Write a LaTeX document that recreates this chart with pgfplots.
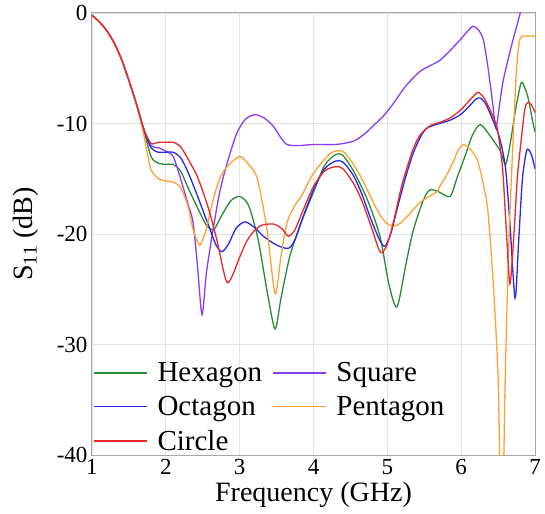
\documentclass[border=0pt]{standalone}
\usepackage{pgfplots}
\pgfplotsset{compat=1.18}
\usepackage{fontspec}
\setmainfont{Liberation Serif}

\definecolor{hexgreen}{RGB}{40,140,50}
\definecolor{octblue}{RGB}{40,40,235}
\definecolor{circred}{RGB}{235,40,40}
\definecolor{sqpurple}{RGB}{140,60,240}
\definecolor{pentorange}{RGB}{255,160,50}

\begin{document}
\begin{tikzpicture}
  \begin{axis}[
    scale only axis,
    width=443pt, height=442pt,
    xmin=1, xmax=7, ymin=-40, ymax=0,
    xtick={1,2,3,4,5,6,7},
    xticklabels={1,2,3,4,5,6,7},
    ytick={-40,-30,-20,-10,0},
    yticklabels={-40,-30,-20,-10,0},
    major tick length=0pt,
    tick label style={font=\rmfamily\fontsize{23}{26}\selectfont},
    xticklabel style={yshift=-1pt},
    yticklabel style={xshift=-1pt},
    grid=major,
    grid style={gray!22, line width=0.8pt},
    axis line style={gray!70, line width=1pt},
    xlabel={Frequency (GHz)},
    ylabel={S\textsubscript{11} (dB)},
    every axis x label/.style={at={(axis description cs:0.5,-0.09)},anchor=center,
      font=\rmfamily\fontsize{28}{32}\selectfont},
    every axis y label/.style={at={(axis description cs:-0.15,0.5)},rotate=90,anchor=center,
      font=\rmfamily\fontsize{28}{32}\selectfont},
    legend columns=2,
    legend cell align=left,
    legend image code/.code={\draw[#1, line width=1.3pt] (0pt,0pt) -- (53pt,0pt);},
    legend style={at={(axis description cs:0.0,0.0)}, anchor=south west,
      draw=none, fill=none, font=\rmfamily\fontsize{29}{32}\selectfont,
      inner sep=1pt, row sep=9pt,
      /tikz/every odd column/.append style={column sep=8pt},
      /tikz/every even column/.append style={column sep=8pt}},
    every axis plot/.append style={line width=1.3pt, smooth, tension=0.45},
  ]
  % Hexagon
  \addplot[hexgreen] coordinates {
    (1.0,-0.2)(1.1,-0.8)(1.2,-1.6)(1.3,-2.7)(1.4,-4.2)(1.5,-6.1)(1.6,-8.2)(1.7,-10.5)
    (1.8,-13.0)(1.9,-13.6)(2.0,-13.7)(2.1,-13.7)(2.2,-14.3)(2.3,-15.8)(2.42,-17.5)
    (2.55,-19.2)(2.65,-19.6)(2.75,-18.4)(2.88,-17.0)(3.0,-16.6)(3.12,-17.4)(3.25,-20.5)
    (3.38,-25.5)(3.48,-28.6)(3.56,-25.8)(3.68,-22)(3.82,-19.2)(4.0,-16.2)(4.15,-13.8)
    (4.3,-12.8)(4.4,-12.9)(4.55,-14.4)(4.73,-16.9)(4.9,-20.2)(5.02,-24.5)(5.13,-26.6)
    (5.25,-22.8)(5.35,-19.7)(5.49,-16.9)(5.58,-16.0)(5.7,-16.2)(5.85,-16.6)(5.95,-14.8)
    (6.05,-13.0)(6.15,-11.1)(6.26,-10.1)(6.4,-11.2)(6.53,-12.5)(6.6,-13.7)(6.66,-12.0)
    (6.73,-9.0)(6.8,-6.6)(6.83,-6.3)(6.9,-7.5)(6.96,-9.5)(7.0,-10.8)};
  \addlegendentry{Hexagon}
  % Square
  \addplot[sqpurple] coordinates {
    (1.0,-0.2)(1.1,-0.8)(1.2,-1.6)(1.3,-2.7)(1.4,-4.2)(1.5,-6.1)(1.6,-8.2)(1.7,-10.5)
    (1.8,-12.0)(1.9,-12.2)(2.0,-12.5)(2.1,-13.0)(2.2,-15.0)(2.3,-17.3)(2.37,-19.0)
    (2.43,-23.0)(2.49,-27.3)(2.55,-23.5)(2.64,-19.6)(2.73,-16.2)(2.83,-13.6)(2.96,-10.9)
    (3.08,-9.6)(3.21,-9.2)(3.33,-9.5)(3.45,-10.2)(3.55,-11.2)(3.64,-11.9)(3.8,-12.0)
    (4.0,-11.9)(4.3,-11.9)(4.54,-11.6)(4.7,-10.9)(4.81,-10.2)(4.95,-9.3)(5.08,-8.2)
    (5.25,-6.6)(5.44,-5.3)(5.6,-4.7)(5.71,-4.3)(5.85,-3.4)(5.99,-2.4)(6.08,-1.7)
    (6.16,-1.2)(6.23,-1.5)(6.3,-2.4)(6.36,-4.8)(6.42,-7.8)(6.47,-10.4)(6.52,-8.3)
    (6.57,-6.1)(6.68,-3.0)(6.8,0)(6.85,1.5)};
  \addlegendentry{Square}
  % Octagon
  \addplot[octblue] coordinates {
    (1.0,-0.2)(1.1,-0.8)(1.2,-1.6)(1.3,-2.7)(1.4,-4.2)(1.5,-6.1)(1.6,-8.2)(1.7,-10.5)
    (1.8,-12.2)(1.9,-12.6)(2.0,-12.6)(2.1,-12.6)(2.2,-13.1)(2.3,-14.4)(2.42,-16.4)
    (2.52,-18.2)(2.6,-19.6)(2.68,-21.0)(2.76,-21.6)(2.85,-20.9)(2.95,-19.5)(3.07,-18.9)
    (3.2,-19.4)(3.32,-20.2)(3.5,-21.0)(3.66,-21.3)(3.75,-20.5)(3.85,-18.6)(4.0,-16.0)
    (4.15,-14.1)(4.3,-13.4)(4.4,-13.5)(4.54,-14.7)(4.65,-16.3)(4.78,-18.7)(4.9,-20.6)
    (4.97,-21.1)(5.05,-19.9)(5.13,-17.8)(5.25,-14.8)(5.35,-12.7)(5.45,-11.2)(5.54,-10.4)
    (5.71,-10.0)(5.85,-9.7)(5.99,-9.2)(6.1,-8.5)(6.2,-7.8)(6.26,-7.7)(6.33,-8.2)
    (6.43,-9.7)(6.52,-11.3)(6.6,-14.0)(6.66,-19.0)(6.73,-25.8)(6.78,-20.5)(6.83,-15.0)
    (6.89,-12.4)(6.95,-12.8)(7.0,-14.1)};
  \addlegendentry{Octagon}
  % Pentagon
  \addplot[pentorange] coordinates {
    (1.0,-0.2)(1.1,-0.8)(1.2,-1.6)(1.3,-2.7)(1.4,-4.2)(1.5,-6.1)(1.6,-8.2)(1.7,-11.0)
    (1.75,-12.7)(1.8,-14.2)(1.9,-15.0)(2.0,-15.2)(2.1,-15.3)(2.2,-15.8)(2.3,-17.5)
    (2.37,-19.6)(2.46,-21.0)(2.55,-19.5)(2.64,-16.9)(2.73,-15.0)(2.83,-13.9)(3.0,-13.0)
    (3.12,-13.7)(3.24,-15.0)(3.37,-19.6)(3.48,-25.4)(3.56,-22.0)(3.64,-19.0)(3.75,-17.4)
    (3.85,-16.4)(4.0,-14.5)(4.23,-12.7)(4.39,-12.5)(4.5,-13.3)(4.63,-14.7)(4.75,-16.3)
    (4.86,-17.8)(4.97,-18.9)(5.08,-19.3)(5.18,-19.0)(5.27,-18.4)(5.38,-17.6)(5.49,-16.9)
    (5.67,-16.2)(5.71,-15.7)(5.8,-14.7)(5.89,-13.5)(5.96,-12.4)(6.03,-11.9)(6.12,-12.3)
    (6.22,-13.3)(6.3,-15.5)(6.36,-17.8)(6.43,-24.0)(6.5,-33.0)(6.55,-48.0)(6.6,-32.0)
    (6.65,-20.0)(6.7,-12.0)(6.75,-5.0)(6.8,-2.3)(6.9,-2.1)(7.0,-2.1)};
  \addlegendentry{Pentagon}
  % Circle
  \addplot[circred] coordinates {
    (1.0,-0.2)(1.1,-0.8)(1.2,-1.6)(1.3,-2.7)(1.4,-4.2)(1.5,-6.1)(1.6,-8.2)(1.7,-10.5)
    (1.8,-11.8)(1.9,-11.7)(2.0,-11.7)(2.1,-11.7)(2.2,-12.1)(2.3,-13.2)(2.42,-14.7)
    (2.52,-16.5)(2.6,-18.2)(2.7,-20.8)(2.77,-23.0)(2.83,-24.4)(2.9,-23.8)(3.0,-22.1)
    (3.1,-20.6)(3.2,-19.7)(3.3,-19.2)(3.46,-19.1)(3.57,-19.5)(3.66,-20.2)(3.75,-19.6)
    (3.85,-18.0)(4.0,-15.7)(4.15,-14.3)(4.3,-13.9)(4.4,-14.1)(4.54,-15.4)(4.65,-16.9)
    (4.78,-19.3)(4.88,-21.3)(4.93,-21.7)(5.0,-20.9)(5.08,-19.0)(5.2,-15.5)(5.35,-12.3)
    (5.45,-11.0)(5.58,-10.2)(5.71,-9.9)(5.85,-9.5)(5.99,-8.8)(6.1,-8.0)(6.2,-7.3)
    (6.24,-7.2)(6.32,-7.8)(6.42,-9.2)(6.49,-10.5)(6.56,-14.0)(6.61,-19.5)(6.66,-24.5)
    (6.71,-20.5)(6.76,-15.0)(6.8,-12.3)(6.86,-8.8)(6.9,-8.1)(6.95,-8.3)(7.0,-9.0)};
  \addlegendentry{Circle}
  \end{axis}
  \pgfresetboundingbox
  \path (current axis.south west) ++(-92pt,-58pt) rectangle ++(545pt,513pt);
\end{tikzpicture}
\end{document}
